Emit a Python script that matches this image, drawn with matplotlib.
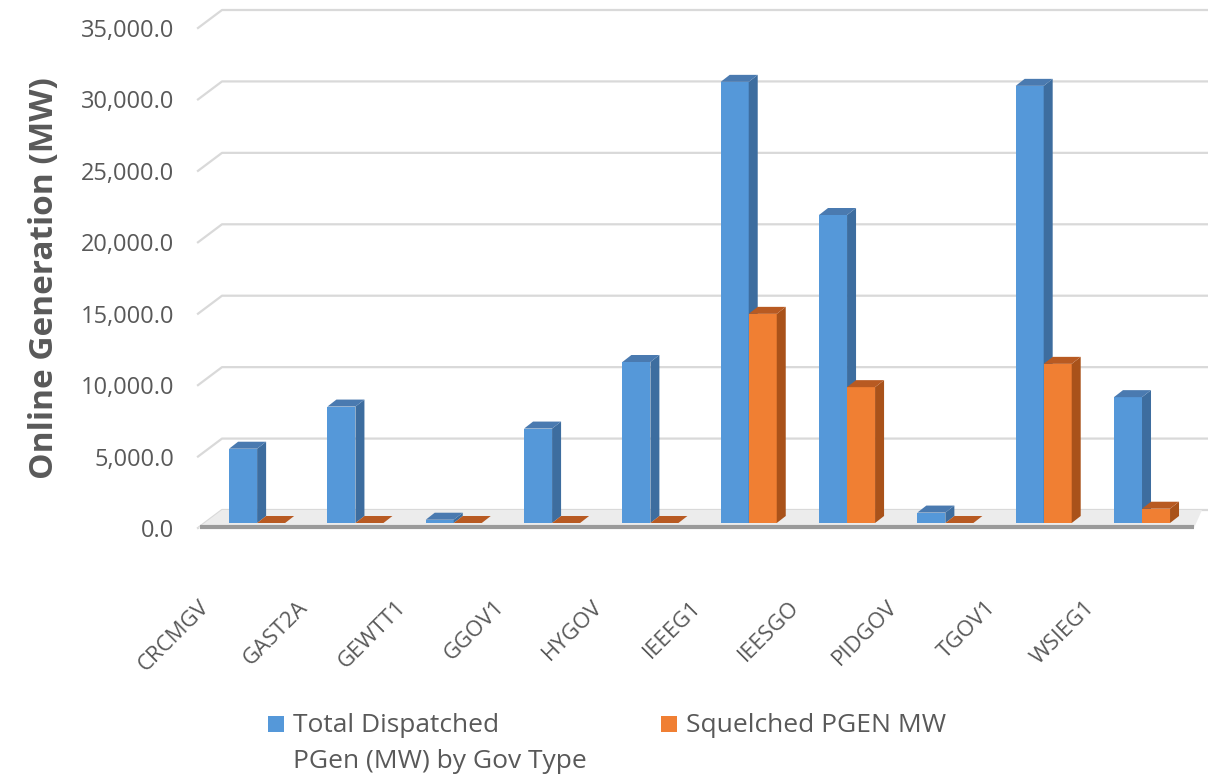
import matplotlib
matplotlib.use("Agg")
from matplotlib import pyplot as plt
from matplotlib.patches import Polygon, Rectangle
import matplotlib.transforms as mtransforms

plt.rcParams['font.family'] = ['Open Sans', 'DejaVu Sans']

gov_types = ["CRCMGV", "GAST2A", "GEWTT1", "GGOV1", "HYGOV",
             "IEEEG1", "IEESGO", "PIDGOV", "TGOV1", "WSIEG1"]
total_dispatched = [5200, 8150, 230, 6610, 11270, 30880, 21560, 730, 30600, 8810]
squelched = [0, 0, 0, 0, 0, 14640, 9510, 0, 11140, 1000]
y_ticks = [0, 5000, 10000, 15000, 20000, 25000, 30000, 35000]

grey = "#595959"

fig = plt.figure(figsize=(12.08, 7.80), dpi=100)
ax = fig.add_axes([198 / 1208, 1 - 528 / 780, 996 / 1208, 500 / 780])
x_lo, x_hi = -0.53, 9.6
ax.set_xlim(x_lo, x_hi)
ax.set_ylim(0, 35000)

# pixel -> data units (for the fake 3d look)
PX_X = (x_hi - x_lo) / 996
PX_Y = 35000 / 500

# floor
wall_dx, wall_dy = 24 * PX_X, 18 * PX_Y
ax.add_patch(Polygon([(x_lo, 0), (x_hi, 0), (x_hi + 8 * PX_X, wall_dy), (x_lo + wall_dx, wall_dy)],
                     closed=True, facecolor="#ececec", edgecolor="none", clip_on=False, zorder=1))
ax.plot([x_lo + 2 * PX_X, x_hi], [PX_Y, PX_Y], color="#9a9a9a", lw=3, clip_on=False, zorder=1.5,
        solid_capstyle="butt")

# gridlines on the back wall
x_edge = x_hi + 14 * PX_X
for v in y_ticks:
    ax.plot([x_lo, x_lo + wall_dx, x_edge], [v, v + wall_dy, v + wall_dy],
            color="#d9d9d9", lw=1.6, clip_on=False, zorder=0.5)

# bars with side and top faces
bar_w = 0.285
off_x, off_y = 7 * PX_X, 5 * PX_Y
dep_x, dep_y = 9 * PX_X, 7 * PX_Y


def bar3d(xs, heights, front, side, top):
    bars = ax.bar([x + off_x for x in xs], heights, width=bar_w, bottom=off_y, align="edge",
                  color=front, edgecolor="none", zorder=3)
    for b in bars:
        x0 = b.get_x()
        x1 = x0 + b.get_width()
        y0 = b.get_y()
        y1 = y0 + b.get_height()
        if b.get_height() > 0:
            ax.add_patch(Polygon([(x1, y0), (x1 + dep_x, y0 + dep_y), (x1 + dep_x, y1 + dep_y), (x1, y1)],
                                 closed=True, facecolor=side, edgecolor="none", zorder=3))
        ax.add_patch(Polygon([(x0, y1), (x1, y1), (x1 + dep_x, y1 + dep_y), (x0 + dep_x, y1 + dep_y)],
                             closed=True, facecolor=top, edgecolor="none", zorder=3))


idx = range(len(gov_types))
bar3d([i - bar_w for i in idx], total_dispatched, "#5598d9", "#3d6d9f", "#4a7ab0")
bar3d([i for i in idx], squelched, "#f07f33", "#a9521a", "#b85a22")

# axes styling
for s in ax.spines.values():
    s.set_visible(False)
ax.set_yticks(y_ticks)
ax.set_yticklabels(["{:,.1f}".format(v) for v in y_ticks], fontsize=17, color=grey)
ax.tick_params(axis="y", length=0, pad=17)
ax.set_xticks([])
ax.set_ylabel("Online Generation (MW)", fontsize=24, fontweight="bold", color=grey, labelpad=14)

# rotated category labels under the floor
lbl_tr = mtransforms.offset_copy(ax.get_xaxis_transform(), fig=fig, x=-44, y=-76, units="dots")
for i, name in enumerate(gov_types):
    ax.text(i, 0, name, transform=lbl_tr, rotation=45, rotation_mode="anchor",
            ha="right", va="center", fontsize=16, color=grey)

# legend (drawn by hand so the swatch sits on the first text line)
legend_items = [("#5598d9", "Total Dispatched\nPGen (MW) by Gov Type", 268),
                ("#f07f33", "Squelched PGEN MW", 661)]
for col, txt, px in legend_items:
    fig.patches.append(Rectangle((px / 1208, 1 - 732 / 780), 16 / 1208, 16 / 780,
                                 transform=fig.transFigure, facecolor=col, edgecolor="none"))
    fig.text((px + 25) / 1208, 1 - 713 / 780, txt, fontsize=19, color=grey, va="top",
             ha="left", linespacing=1.57, transform=fig.transFigure)

fig.savefig("out.png", dpi=100)
